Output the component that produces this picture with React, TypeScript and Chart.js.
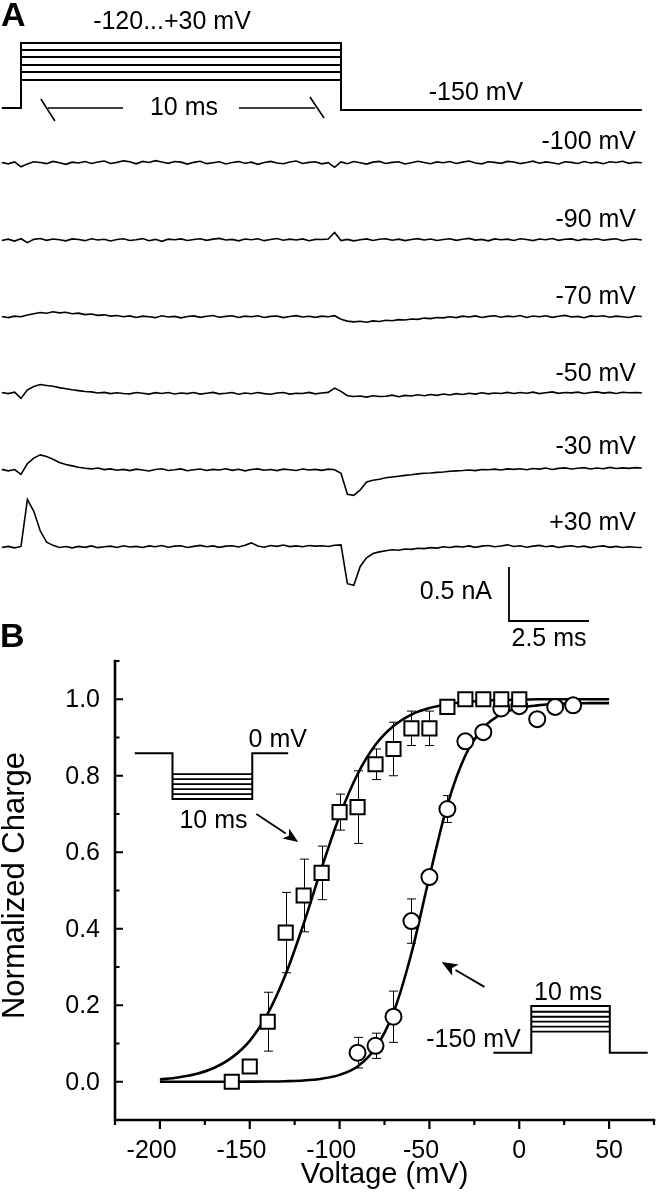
import React, { useEffect, useRef } from 'react';
import { Chart, registerables } from 'chart.js';

Chart.register(...registerables);

const FONT = "'Liberation Sans', Arial, Helvetica, sans-serif";

// ================= Panel A data =================
// Gating currents, pA relative to each trace's own baseline, sampled every 0.2 ms
const SAMPLE_START_MS = -0.6;
const SAMPLE_STEP_MS = 0.2;
const PULSE_START_MS = 0;
const PULSE_END_MS = 10;
const RECORD_END_MS = 19.4;

const TRACE_LABELS = ['-100 mV', '-90 mV', '-70 mV', '-50 mV', '-30 mV', '+30 mV'];

const TRACE_M100 = [
  5, -8, 10, -35, -10, 12, 4, -6, 15, 2,
  -12, 8, 0, 14, -5, 10, 18, -4, 6, 20,
  12, -8, 15, 5, 22, 10, -3, 14, 8, -10,
  6, 16, -6, 3, 11, -9, 5, 13, -2, 8,
  -12, 4, 15, 0, -7, 9, 18, -4, 6, 12,
  -8, 3, -40, 10, -6, 14, 2, -10, 8, 15,
  -4, 6, 12, -9, 3, 16, 5, -7, 10, 2,
  14, -5, 8, 18, 0, -8, 12, 6, -3, 15,
  9, -6, 4, 17, -2, 10, 3, -9, 12, 6,
  -4, 14, 0, 8, -7, 11, 5, 16, -3, 7,
  2,
];
const TRACE_M90 = [
  -5, 8, -10, 12, -25, 6, 14, -3, 9, 2,
  -8, 10, 4, -6, 12, 0, 7, -9, 5, 11,
  -4, 2, 13, -7, 6, -12, 8, 3, 10, -5,
  4, 12, -3, 8, 15, 0, 6, -8, 9, 3,
  11, -6, 5, 14, -2, 8, 0, 10, -7, 6,
  4, 9, 70, -5, 6, -8, 3, 10, -4, 7,
  12, -2, 8, -6, 5, 13, 0, 9, -5, 4,
  11, -3, 7, 15, -1, 6, -8, 10, 3, 8,
  -4, 12, 5, -6, 9, 2, 14, -3, 7, 10,
  -5, 8, 3, 12, -2, 6, 11, -7, 4, 9,
  0,
];
const TRACE_M70 = [
  5, -6, 8, 2, 18, 30, 42, 35, 48, 38,
  44, 30, 36, 22, 28, 15, 20, 8, 14, 2,
  10, -4, 8, 3, -6, 12, 0, 6, -8, 5,
  10, -3, 7, 14, -2, 6, 11, -5, 8, 2,
  12, -4, 6, 9, -6, 4, 13, 0, 7, -3,
  8, 3, 12, -20, -38, -45, -40, -48, -36, -42,
  -30, -35, -24, -28, -18, -22, -10, -15, -4, -8,
  2, -6, 8, 0, 10, -4, 6, 12, -2, 8,
  3, 14, -5, 9, 2, 11, -3, 7, 15, 0,
  6, -7, 10, 4, 12, -2, 8, 3, -5, 9,
  4,
];
const TRACE_M50 = [
  4, -6, 8, -50, 30, 60, 78, 70, 62, 50,
  40, 30, 22, 14, 10, 0, 6, -6, 2, -4,
  -8, 4, -2, -10, 3, -5, 5, -9, 0, -6,
  4, -10, -2, 6, -8, -3, 4, -12, 0, -7,
  5, -6, -12, 0, 4, -10, -2, -5, 6, -8,
  0, 6, 45, 15, -25, -32, -28, -38, -25, -33,
  -30, -20, -34, -22, -28, -16, -26, -14, -22, -10,
  -18, -6, -14, -2, -10, 2, -8, 0, -5, 6,
  -4, 4, -2, 8, -6, 3, 10, -3, 5, 1,
  8, -5, 4, 10, -1, 6, -4, 7, 2, 4,
  1,
];
const TRACE_M30 = [
  6, -8, 4, -40, 60, 110, 140, 125, 100, 70,
  50, 38, 26, 16, 10, 18, 4, 10, -2, 6,
  -6, 8, 0, -9, 5, 12, -4, 2, 10, -7,
  3, 9, -5, 6, 0, 11, -3, 7, -8, 4,
  10, -2, 5, -6, 8, 2, -5, 9, 0, 6,
  -3, 8, 2, -30, -225, -235, -185, -110, -95, -85,
  -72, -65, -58, -50, -44, -36, -30, -28, -22, -18,
  -12, -8, -5, 0, -6, 4, 2, 8, 0, 10,
  6, 12, 3, 14, 8, 18, 5, 15, 20, 9,
  16, 22, 10, 18, 12, 24, 14, 20, 15, 22,
  18,
];
const TRACE_P30 = [
  -4, 6, -8, 5, 440, 330, 150, 45, 15, -5,
  4, -8, 6, -3, 10, -6, 2, 8, -5, 12,
  0, 6, -4, 10, 3, 14, -2, 8, 12, -4,
  6, 15, 2, 10, -3, 8, 12, 0, 16, 38,
  9, -2, 14, 6, 18, 4, 10, 2, 14, 8,
  12, 5, 16, 20, -340, -355, -180, -100, -60, -45,
  -35, -26, -30, -18, -22, -12, -15, -6, -10, 2,
  -4, 6, 0, 10, -3, 8, 14, 2, 9, 20,
  5, 12, -2, 8, 15, 3, 10, -4, 6, 12,
  0, 8, -6, 4, 10, -3, 6, -5, 2, -2,
  -4,
];
const TRACES = [TRACE_M100, TRACE_M90, TRACE_M70, TRACE_M50, TRACE_M30, TRACE_P30];

const PROTOCOL_LABEL = '-120...+30 mV';
const HOLD_LABEL = '-150 mV';
const PULSE_LABEL = '10 ms';
const SCALE_BAR_NA = 0.5;
const SCALE_BAR_MS = 2.5;
const SCALE_NA_LABEL = '0.5 nA';
const SCALE_MS_LABEL = '2.5 ms';

// ================= Panel B data =================
const SQ_V = [-160, -150, -140, -130, -120, -110, -100, -90, -80, -70, -60, -50, -40, -30, -20, -10, 0];
const SQ_Q = [0.0, 0.04, 0.157, 0.39, 0.487, 0.546, 0.705, 0.718, 0.83, 0.87, 0.924, 0.924, 0.98, 1.0, 1.0, 1.0, 1.0];
const SQ_ERR = [0, 0, 0.077, 0.105, 0.095, 0.07, 0.047, 0.095, 0.04, 0.07, 0.045, 0.045, 0, 0, 0, 0, 0];

const CI_V = [-90, -80, -70, -60, -50, -40, -30, -20, -10, 0, 10, 20, 30];
const CI_Q = [0.076, 0.094, 0.17, 0.42, 0.535, 0.713, 0.89, 0.914, 0.976, 0.982, 0.948, 0.98, 0.984];
const CI_ERR = [0.04, 0.033, 0.067, 0.058, 0, 0.035, 0, 0, 0, 0, 0, 0, 0];

const FIT_V = [-200, -190, -180, -170, -160, -150, -140, -130, -120, -110, -100, -90, -80, -70, -60, -50, -40, -30, -20, -10, 0, 10, 20, 30, 40, 50];
const FIT_SQ = [0.006, 0.011, 0.020, 0.036, 0.063, 0.107, 0.178, 0.281, 0.413, 0.559, 0.695, 0.804, 0.881, 0.930, 0.960, 0.977, 0.987, 0.993, 0.996, 0.998, 0.999, 1.0, 1.0, 1.0, 1.0, 1.0];
const FIT_CI = [0.0, 0.0, 0.0, 0.0, 0.0001, 0.0003, 0.0006, 0.0015, 0.0034, 0.008, 0.018, 0.040, 0.088, 0.181, 0.336, 0.536, 0.724, 0.853, 0.925, 0.961, 0.977, 0.984, 0.988, 0.989, 0.990, 0.990];

const X_TICKS = [-200, -150, -100, -50, 0, 50];
const X_MINOR = [-225, -175, -125, -75, -25, 25, 75];
const Y_TICKS = [0, 0.2, 0.4, 0.6, 0.8, 1.0];
const Y_MINOR = [-0.1, 0.1, 0.3, 0.5, 0.7, 0.9, 1.1];
const X_MIN = -225, X_MAX = 75, Y_MIN = -0.1, Y_MAX = 1.1;
const X_TITLE = 'Voltage (mV)';
const Y_TITLE = 'Normalized Charge';

// ================= Layout (pixels) =================
const W = 657;
const A_H = 660;
const B_TOP = 600;
const B_H = 599;
const A_PX_PER_MS = 32;
const A_PULSE_X = 21;
const A_PX_PER_NA = 108;
const A_TRACE_ROWS = [163, 240, 317, 393, 470, 547];
const A_LABEL_ROWS = [142, 220, 297, 374, 447, 523];
const A_STEP_ROWS = [43, 50, 57, 65, 72, 80];
const A_HOLD_ROW_PRE = 108;
const A_HOLD_ROW_POST = 110;
const A_SCALE_T0 = 15.25;
const A_SCALE_ROW = 621;

const rowToPA = (r: number) => ((A_H - r) / A_PX_PER_NA) * 1000;

const panelAPlugin = {
  id: 'panelA',
  afterDraw(chart: any) {
    const ctx: CanvasRenderingContext2D = chart.ctx;
    const xs = chart.scales.x;
    const ys = chart.scales.y;
    const X = (t: number) => xs.getPixelForValue(t);
    ctx.save();
    ctx.strokeStyle = '#000';
    ctx.fillStyle = '#000';
    ctx.lineJoin = 'miter';
    // voltage protocol
    ctx.lineWidth = 2;
    ctx.beginPath();
    ctx.moveTo(X(SAMPLE_START_MS), A_HOLD_ROW_PRE);
    ctx.lineTo(X(PULSE_START_MS), A_HOLD_ROW_PRE);
    ctx.lineTo(X(PULSE_START_MS), A_STEP_ROWS[0]);
    ctx.lineTo(X(PULSE_END_MS), A_STEP_ROWS[0]);
    ctx.lineTo(X(PULSE_END_MS), A_HOLD_ROW_POST);
    ctx.lineTo(X(RECORD_END_MS), A_HOLD_ROW_POST);
    ctx.stroke();
    ctx.beginPath();
    A_STEP_ROWS.slice(1).forEach((r) => {
      ctx.moveTo(X(PULSE_START_MS), r);
      ctx.lineTo(X(PULSE_END_MS), r);
    });
    ctx.stroke();
    // 10 ms dimension marks
    ctx.lineWidth = 1.6;
    ctx.beginPath();
    ctx.moveTo(X(0.62), 99);
    ctx.lineTo(X(1.06), 121);
    ctx.moveTo(X(0.84), 108);
    ctx.lineTo(X(3.19), 108);
    ctx.moveTo(X(6.81), 108);
    ctx.lineTo(X(9.19), 108);
    ctx.moveTo(X(9.03), 97);
    ctx.lineTo(X(9.47), 118);
    ctx.stroke();

    ctx.font = `25px ${FONT}`;
    ctx.textBaseline = 'middle';
    ctx.textAlign = 'center';
    ctx.fillText(PROTOCOL_LABEL, 172, 22);
    ctx.fillText(PULSE_LABEL, 184, 108);
    ctx.fillText(HOLD_LABEL, 476, 93);
    ctx.textAlign = 'right';
    TRACE_LABELS.forEach((lab, i) => ctx.fillText(lab, 636, A_LABEL_ROWS[i]));

    // scale bars
    const base = rowToPA(A_SCALE_ROW);
    const x0 = X(A_SCALE_T0);
    ctx.lineWidth = 1.8;
    ctx.beginPath();
    ctx.moveTo(x0, ys.getPixelForValue(base + SCALE_BAR_NA * 1000));
    ctx.lineTo(x0, ys.getPixelForValue(base));
    ctx.lineTo(X(A_SCALE_T0 + SCALE_BAR_MS), ys.getPixelForValue(base));
    ctx.stroke();
    ctx.textAlign = 'right';
    ctx.fillText(SCALE_NA_LABEL, x0 - 17, 592);
    ctx.textAlign = 'center';
    ctx.fillText(SCALE_MS_LABEL, X(A_SCALE_T0 + SCALE_BAR_MS / 2), 639);

    ctx.font = `bold 34px ${FONT}`;
    ctx.textAlign = 'left';
    ctx.textBaseline = 'alphabetic';
    ctx.fillText('A', 1, 26);
    ctx.restore();
  },
};

function arrow(ctx: CanvasRenderingContext2D, x1: number, y1: number, x2: number, y2: number, head: number, half: number) {
  const a = Math.atan2(y2 - y1, x2 - x1);
  const bx = x2 - head * Math.cos(a);
  const by = y2 - head * Math.sin(a);
  ctx.beginPath();
  ctx.moveTo(x1, y1);
  ctx.lineTo(bx, by);
  ctx.stroke();
  ctx.beginPath();
  ctx.moveTo(x2, y2);
  ctx.lineTo(bx + half * Math.sin(a), by - half * Math.cos(a));
  ctx.lineTo(bx + head * 0.25 * Math.cos(a), by + head * 0.25 * Math.sin(a));
  ctx.lineTo(bx - half * Math.sin(a), by + half * Math.cos(a));
  ctx.closePath();
  ctx.fill();
}

const panelBPlugin = {
  id: 'panelB',
  beforeDatasetsDraw(chart: any) {
    const ctx: CanvasRenderingContext2D = chart.ctx;
    const { x, y } = chart.scales;
    ctx.save();
    ctx.strokeStyle = '#000';
    ctx.lineWidth = 1;
    const bars = (vs: number[], qs: number[], es: number[]) => {
      vs.forEach((v, i) => {
        const e = es[i];
        if (!e) return;
        const px = Math.round(x.getPixelForValue(v)) + 0.5;
        const t = y.getPixelForValue(qs[i] + e);
        const b = y.getPixelForValue(qs[i] - e);
        ctx.beginPath();
        ctx.moveTo(px, t);
        ctx.lineTo(px, b);
        ctx.moveTo(px - 4.5, t);
        ctx.lineTo(px + 4.5, t);
        ctx.moveTo(px - 4.5, b);
        ctx.lineTo(px + 4.5, b);
        ctx.stroke();
      });
    };
    bars(SQ_V, SQ_Q, SQ_ERR);
    bars(CI_V, CI_Q, CI_ERR);
    ctx.restore();
  },
  afterDraw(chart: any) {
    const ctx: CanvasRenderingContext2D = chart.ctx;
    const { x, y } = chart.scales;
    const PX = (v: number) => x.getPixelForValue(v);
    const PY = (v: number) => y.getPixelForValue(v);
    ctx.save();
    ctx.strokeStyle = '#000';
    ctx.fillStyle = '#000';
    // axes
    const L = PX(X_MIN), R = PX(X_MAX), T = PY(Y_MAX), B = PY(Y_MIN);
    ctx.lineWidth = 2.6;
    ctx.lineCap = 'square';
    ctx.beginPath();
    ctx.moveTo(L, T);
    ctx.lineTo(L, B);
    ctx.lineTo(R, B);
    ctx.stroke();
    ctx.lineCap = 'butt';
    ctx.lineWidth = 2.2;
    ctx.beginPath();
    Y_TICKS.forEach((v) => { ctx.moveTo(L, PY(v)); ctx.lineTo(L + 8, PY(v)); });
    Y_MINOR.forEach((v) => { ctx.moveTo(L, PY(v)); ctx.lineTo(L + 4.5, PY(v)); });
    X_TICKS.forEach((v) => { ctx.moveTo(PX(v), B); ctx.lineTo(PX(v), B + 9); });
    X_MINOR.forEach((v) => { ctx.moveTo(PX(v), B); ctx.lineTo(PX(v), B + 5); });
    ctx.stroke();

    // tick labels
    ctx.font = `25px ${FONT}`;
    ctx.textAlign = 'right';
    ctx.textBaseline = 'middle';
    Y_TICKS.forEach((v) => ctx.fillText(v.toFixed(1), L - 15, PY(v) + 1));
    ctx.textAlign = 'center';
    ctx.textBaseline = 'alphabetic';
    const minusW = ctx.measureText('-').width;
    X_TICKS.forEach((v) => ctx.fillText(String(v), PX(v) - (v < 0 ? minusW : 0), B + 38));

    // titles
    ctx.font = `29px ${FONT}`;
    ctx.fillText(X_TITLE, (L + R) / 2, B + 63);
    ctx.save();
    ctx.font = `31px ${FONT}`;
    ctx.translate(24, (T + B) / 2 - 5);
    ctx.rotate(-Math.PI / 2);
    ctx.textAlign = 'center';
    ctx.textBaseline = 'alphabetic';
    ctx.fillText(Y_TITLE, 0, 0);
    ctx.restore();

    // inset: inactivation protocol (upper left)
    ctx.lineWidth = 2;
    ctx.lineJoin = 'miter';
    ctx.beginPath();
    ctx.moveTo(PX(-214), PY(0.859));
    ctx.lineTo(PX(-193), PY(0.859));
    ctx.lineTo(PX(-193), PY(0.739));
    ctx.lineTo(PX(-148.6), PY(0.739));
    ctx.lineTo(PX(-148.6), PY(0.859));
    ctx.lineTo(PX(-128.6), PY(0.859));
    ctx.stroke();
    ctx.lineWidth = 1.8;
    ctx.beginPath();
    [0.804, 0.791, 0.778, 0.765, 0.752].forEach((v) => {
      ctx.moveTo(PX(-193), PY(v));
      ctx.lineTo(PX(-148.6), PY(v));
    });
    ctx.stroke();

    // inset: activation protocol (lower right)
    ctx.lineWidth = 2;
    ctx.beginPath();
    ctx.moveTo(PX(-14.4), PY(0.0757));
    ctx.lineTo(PX(6.7), PY(0.0757));
    ctx.lineTo(PX(6.7), PY(0.198));
    ctx.lineTo(PX(50.4), PY(0.198));
    ctx.lineTo(PX(50.4), PY(0.0757));
    ctx.lineTo(PX(71.5), PY(0.0757));
    ctx.stroke();
    ctx.lineWidth = 1.8;
    ctx.beginPath();
    [0.183, 0.170, 0.157, 0.144, 0.131].forEach((v) => {
      ctx.moveTo(PX(6.7), PY(v));
      ctx.lineTo(PX(50.4), PY(v));
    });
    ctx.stroke();

    ctx.font = `25px ${FONT}`;
    ctx.textAlign = 'center';
    ctx.textBaseline = 'middle';
    ctx.fillText('0 mV', PX(-134.4), PY(0.893));
    ctx.fillText('10 ms', PX(-170.2), PY(0.681));
    ctx.fillText('10 ms', PX(27.2), PY(0.232));
    ctx.fillText('-150 mV', PX(-25.5), PY(0.110));

    // arrows
    ctx.lineWidth = 1.8;
    arrow(ctx, PX(-146.3), PY(0.70), PX(-123), PY(0.627), 15, 6);
    arrow(ctx, PX(-19.4), PY(0.248), PX(-43.2), PY(0.313), 16, 6.5);

    ctx.font = `bold 34px ${FONT}`;
    ctx.textAlign = 'left';
    ctx.textBaseline = 'alphabetic';
    ctx.fillText('B', 0, 47);
    ctx.restore();
  },
};

export default function App() {
  const aRef = useRef<HTMLCanvasElement>(null);
  const bRef = useRef<HTMLCanvasElement>(null);

  useEffect(() => {
    const traceSets = TRACES.map((tr, k) => ({
      data: tr.map((v, i) => ({ x: SAMPLE_START_MS + i * SAMPLE_STEP_MS, y: rowToPA(A_TRACE_ROWS[k]) + v })),
      borderColor: '#000',
      borderWidth: 1.6,
      pointRadius: 0,
      showLine: true,
      fill: false,
      tension: 0,
    }));
    const chartA = new Chart(aRef.current as HTMLCanvasElement, {
      type: 'scatter',
      data: { datasets: traceSets as any },
      options: {
        responsive: false,
        animation: false,
        events: [],
        layout: { padding: 0, autoPadding: false },
        plugins: { legend: { display: false }, tooltip: { enabled: false } },
        scales: {
          x: { type: 'linear', display: false, min: -A_PULSE_X / A_PX_PER_MS, max: (W - A_PULSE_X) / A_PX_PER_MS },
          y: { type: 'linear', display: false, min: 0, max: (A_H / A_PX_PER_NA) * 1000 },
        },
      },
      plugins: [panelAPlugin],
    } as any);

    const chartB = new Chart(bRef.current as HTMLCanvasElement, {
      type: 'scatter',
      data: {
        datasets: [
          {
            data: SQ_V.map((v, i) => ({ x: v, y: SQ_Q[i] })),
            pointStyle: 'rect',
            pointRadius: 10,
            pointBorderWidth: 2,
            pointBackgroundColor: '#fff',
            pointBorderColor: '#000',
            showLine: false,
            order: 0,
          },
          {
            data: CI_V.map((v, i) => ({ x: v, y: CI_Q[i] })),
            pointStyle: 'circle',
            pointRadius: 8,
            pointBorderWidth: 2,
            pointBackgroundColor: '#fff',
            pointBorderColor: '#000',
            showLine: false,
            order: 0,
          },
          {
            data: FIT_V.map((v, i) => ({ x: v, y: FIT_SQ[i] })),
            showLine: true,
            pointRadius: 0,
            borderColor: '#000',
            borderWidth: 2.6,
            cubicInterpolationMode: 'monotone',
            order: 1,
          },
          {
            data: FIT_V.map((v, i) => ({ x: v, y: FIT_CI[i] })),
            showLine: true,
            pointRadius: 0,
            borderColor: '#000',
            borderWidth: 2.6,
            cubicInterpolationMode: 'monotone',
            order: 1,
          },
        ] as any,
      },
      options: {
        responsive: false,
        animation: false,
        events: [],
        layout: { padding: { left: 115, top: 61, right: 3, bottom: 79 }, autoPadding: false },
        plugins: { legend: { display: false }, tooltip: { enabled: false } },
        scales: {
          x: { type: 'linear', display: false, min: X_MIN, max: X_MAX },
          y: { type: 'linear', display: false, min: Y_MIN, max: Y_MAX },
        },
      },
      plugins: [panelBPlugin],
    } as any);

    return () => {
      chartA.destroy();
      chartB.destroy();
    };
  }, []);

  return (
    <div style={{ position: 'absolute', left: 0, top: 0, width: W, height: 1199, background: '#fff' }}>
      <canvas
        ref={aRef}
        width={W}
        height={A_H}
        style={{ position: 'absolute', left: 0, top: 0, width: W, height: A_H }}
      />
      <canvas
        ref={bRef}
        width={W}
        height={B_H}
        style={{ position: 'absolute', left: 0, top: B_TOP, width: W, height: B_H }}
      />
    </div>
  );
}
